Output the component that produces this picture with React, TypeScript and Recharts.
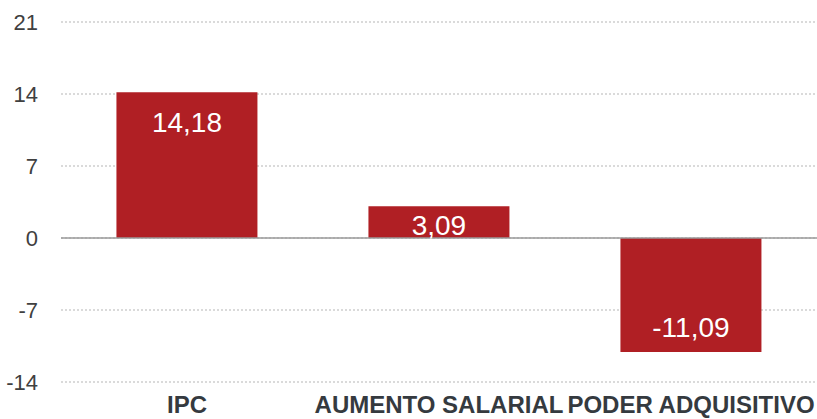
import React from 'react';
import { BarChart, Bar, XAxis, YAxis, CartesianGrid, ReferenceLine, LabelList } from 'recharts';

const categories = ['IPC', 'AUMENTO SALARIAL', 'PODER ADQUISITIVO'];
const values = [14.18, 3.09, -11.09];
const yTicks = [-14, -7, 0, 7, 14, 21];

const data = categories.map((name, i) => ({ name, value: values[i] }));

const barColor = '#b01f24';
const font = '"Liberation Sans", Arial, sans-serif';

const fmt = (v: number) => v.toFixed(2).replace('.', ',');

const BarLabel = (props: any) => {
  const { x, y, width, height, value } = props;
  const top = Math.min(y, y + height);
  const bottom = Math.max(y, y + height);
  let cy: number;
  if (value >= 0) {
    cy = bottom - top > 60 ? top + 30 : (top + bottom) / 2 + 3;
  } else {
    cy = bottom - 25;
  }
  return (
    <text
      x={x + width / 2}
      y={cy}
      fill="#ffffff"
      fontSize={28}
      fontFamily={font}
      textAnchor="middle"
      dominantBaseline="central"
    >
      {fmt(value)}
    </text>
  );
};

const App: React.FC = () => {
  return (
    <div style={{ position: 'absolute', left: 0, top: 0, background: '#fff' }}>
      <BarChart
        width={817}
        height={419}
        data={data}
        margin={{ top: 22, right: 0, left: 0, bottom: 0 }}
        barCategoryGap="22%"
      >
        <CartesianGrid vertical={false} stroke="#b5b5b5" strokeDasharray="2 2" />
        <XAxis
          dataKey="name"
          axisLine={false}
          tickLine={false}
          height={37}
          tickMargin={8}
          interval={0}
          tick={{ fill: '#353a3f', fontSize: 24, fontWeight: 'bold', fontFamily: font }}
        />
        <YAxis
          domain={[-14, 21]}
          ticks={yTicks}
          width={61}
          axisLine={false}
          tickLine={false}
          tickMargin={17}
          tick={{ fill: '#404040', fontSize: 22, fontFamily: font }}
        />
        <ReferenceLine y={0} stroke="#9a9a9a" strokeWidth={1.5} />
        <Bar dataKey="value" fill={barColor} isAnimationActive={false}>
          <LabelList dataKey="value" content={BarLabel} />
        </Bar>
      </BarChart>
    </div>
  );
};

export default App;
